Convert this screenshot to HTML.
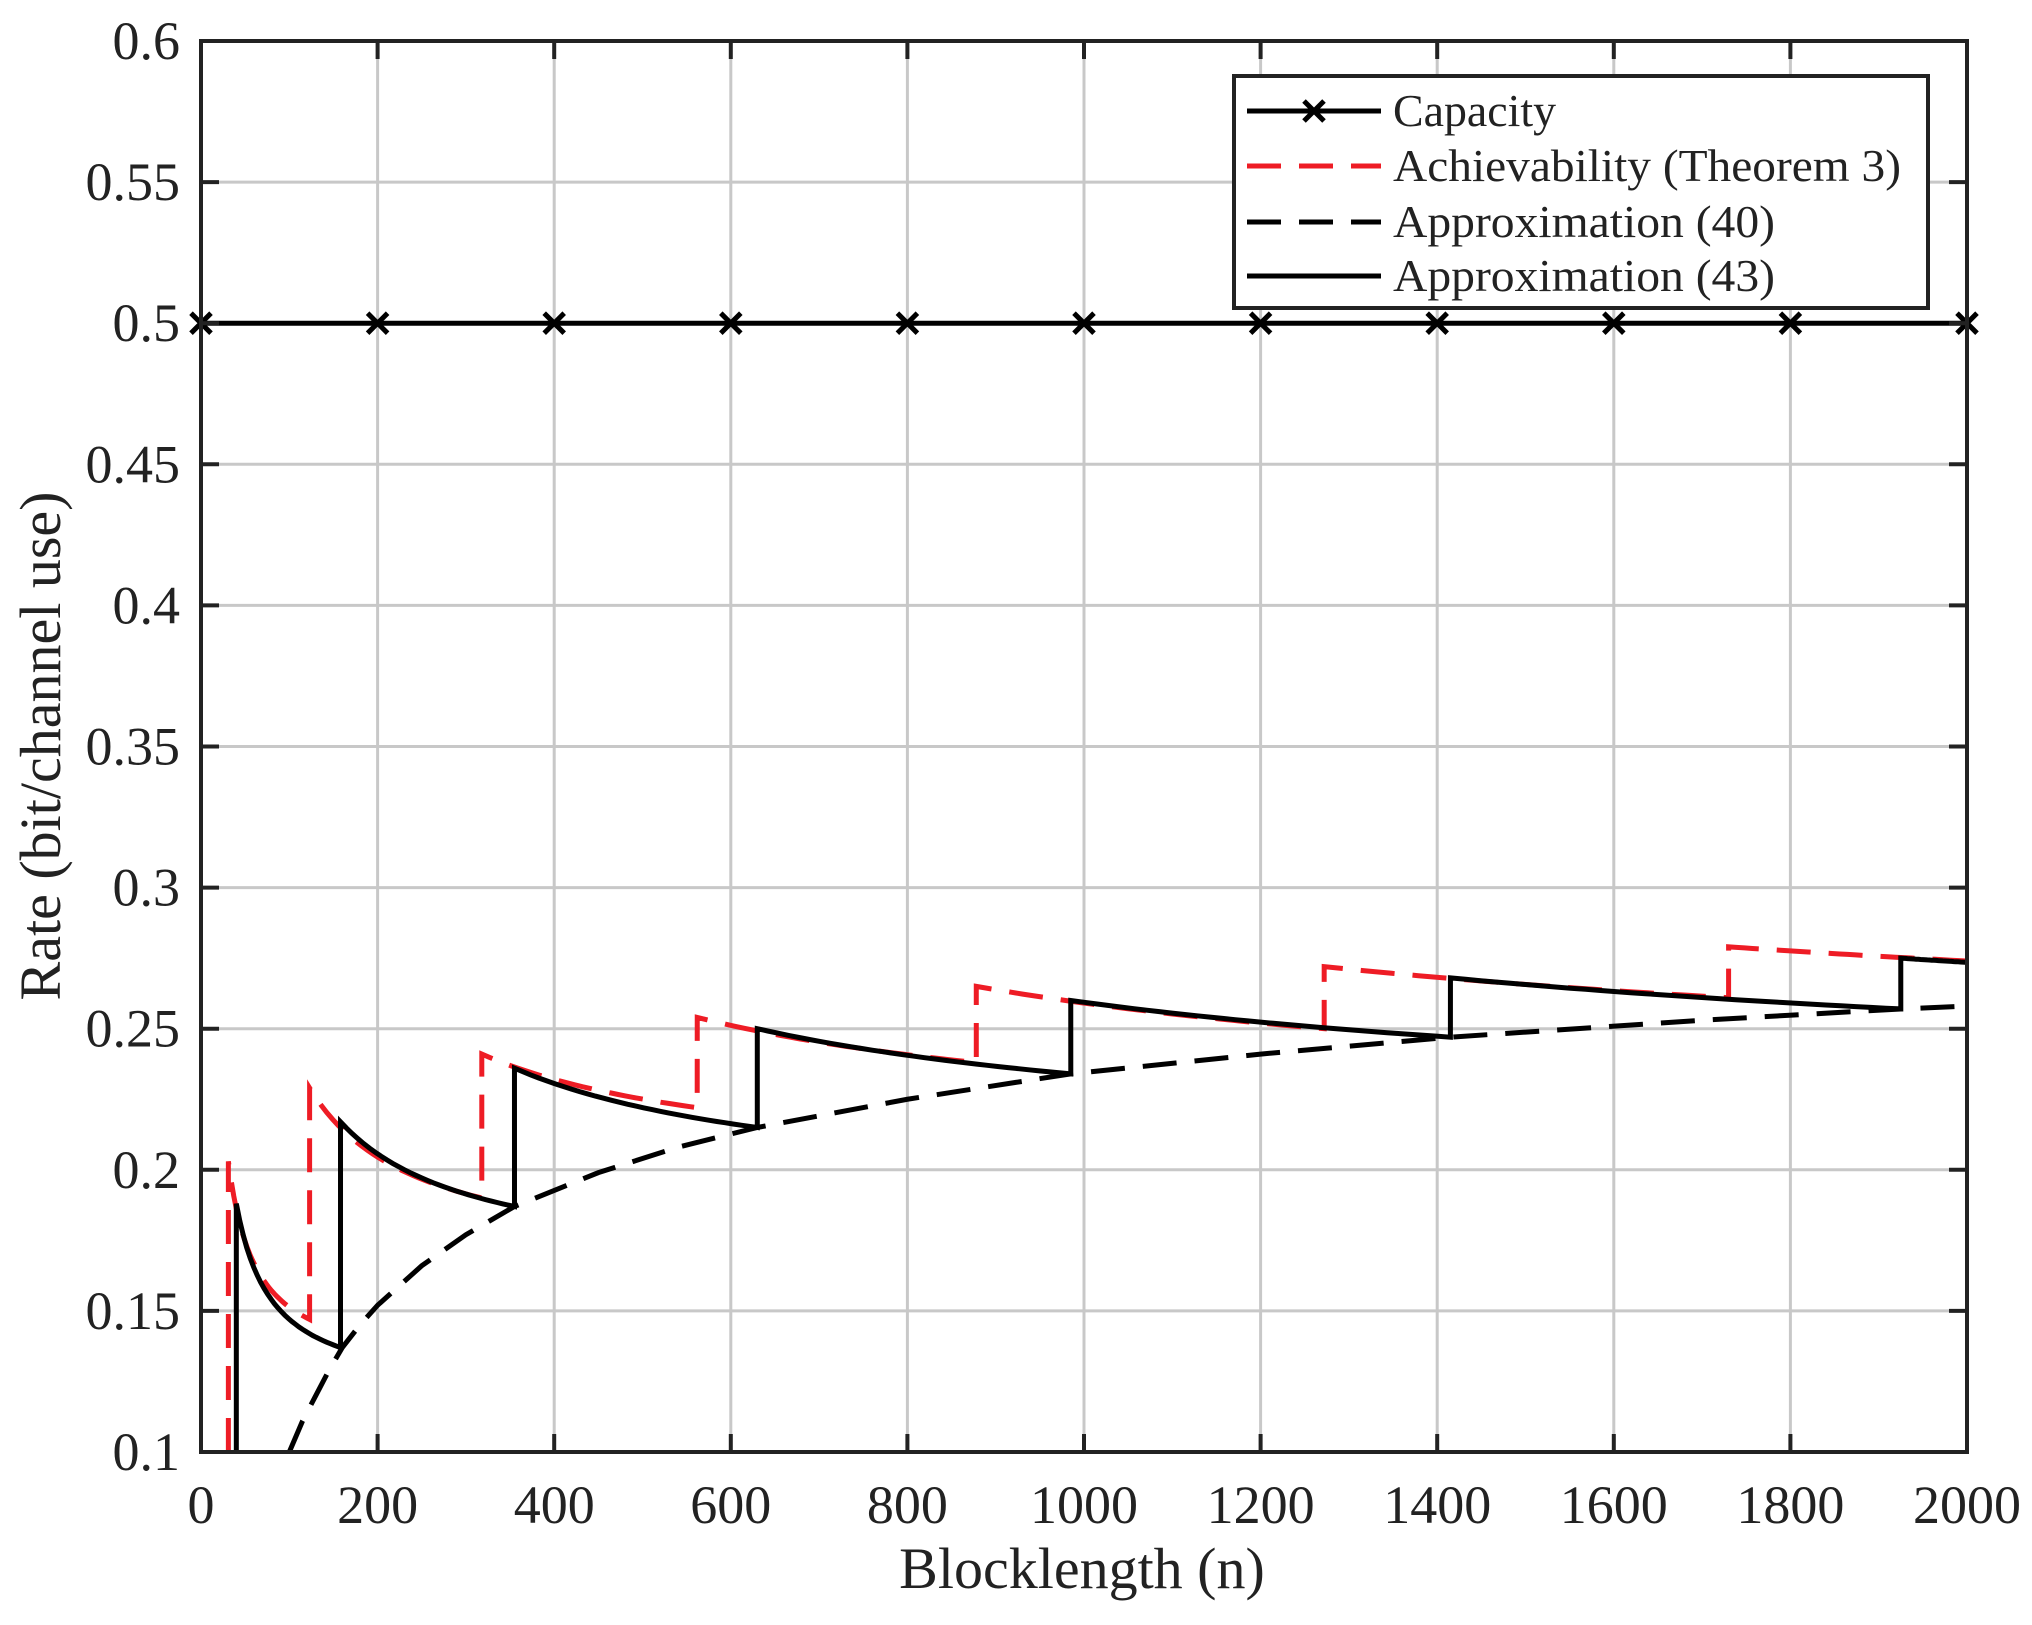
<!DOCTYPE html>
<html><head><meta charset="utf-8"><style>
html,body{margin:0;padding:0;background:#fff;}
svg text{font-family:"Liberation Serif",serif;fill:#222;}
</style></head><body>
<svg id="s" width="2032" height="1620" xmlns="http://www.w3.org/2000/svg">
<rect width="2032" height="1620" fill="#fff"/>
<g id="grid"></g>
<g id="series"></g>
<rect x="201" y="41" width="1766" height="1411" fill="none" stroke="#222" stroke-width="4"/>
<g id="ticks"></g>
<g>
<text x="1082" y="1588" text-anchor="middle" font-size="58">Blocklength (n)</text>
<text transform="translate(60,746) rotate(-90)" text-anchor="middle" font-size="58">Rate (bit/channel use)</text>
</g>
<g id="legend">
<rect x="1234" y="76" width="694" height="232" fill="#fff" stroke="#222" stroke-width="4"/>
<line x1="1247" y1="111" x2="1381" y2="111" stroke="#000" stroke-width="5"/>
<path d="M1304,101 l20,20 M1324,101 l-20,20" stroke="#000" stroke-width="5"/>
<line x1="1247" y1="166" x2="1381" y2="166" stroke="#ee1c25" stroke-width="5" stroke-dasharray="34,18"/>
<line x1="1247" y1="222" x2="1381" y2="222" stroke="#000" stroke-width="5" stroke-dasharray="34,18"/>
<line x1="1247" y1="276" x2="1381" y2="276" stroke="#000" stroke-width="5"/>
<g font-size="46">
<text x="1393" y="126" textLength="163" lengthAdjust="spacingAndGlyphs">Capacity</text>
<text x="1393" y="181" textLength="508" lengthAdjust="spacingAndGlyphs">Achievability (Theorem 3)</text>
<text x="1393" y="237" textLength="382" lengthAdjust="spacingAndGlyphs">Approximation (40)</text>
<text x="1393" y="291" textLength="382" lengthAdjust="spacingAndGlyphs">Approximation (43)</text>
</g>
</g>
</svg>
<script>
var NS="http://www.w3.org/2000/svg";
function X(n){return 201+n*0.883;}
function Y(r){return 1452-(r-0.1)*2822;}
function el(p,t,a){var e=document.createElementNS(NS,t);for(var k in a)e.setAttribute(k,a[k]);p.appendChild(e);return e;}
var g=document.getElementById('grid'),tk=document.getElementById('ticks'),s=document.getElementById('series');
for(var i=0;i<=10;i++){var x=X(i*200);
 if(i>0&&i<10)el(g,'line',{x1:x,y1:41,x2:x,y2:1452,stroke:'#c8c8c8','stroke-width':3});
 el(tk,'line',{x1:x,y1:1452,x2:x,y2:1434,stroke:'#222','stroke-width':4});
 el(tk,'line',{x1:x,y1:41,x2:x,y2:59,stroke:'#222','stroke-width':4});
 var t=el(tk,'text',{x:x,y:1523,'text-anchor':'middle','font-size':54});t.textContent=String(i*200);}
for(var j=0;j<=10;j++){var r=0.1+j*0.05,y=Y(r);
 if(j>0&&j<10)el(g,'line',{x1:201,y1:y,x2:1967,y2:y,stroke:'#c8c8c8','stroke-width':3});
 el(tk,'line',{x1:201,y1:y,x2:219,y2:y,stroke:'#222','stroke-width':4});
 el(tk,'line',{x1:1967,y1:y,x2:1949,y2:y,stroke:'#222','stroke-width':4});
 var lab=(Math.round(r*100)/100).toString();
 var t2=el(tk,'text',{x:180,y:y+18,'text-anchor':'end','font-size':54});t2.textContent=lab;}
var ap=[[100,0.1],[115,0.111],[130,0.12],[145,0.129],[160,0.137],[180,0.145],[200,0.152],[250,0.166],[300,0.177],[355,0.187],[450,0.199],[540,0.208],[630,0.215],[800,0.225],[985,0.234],[1200,0.241],[1415,0.247],[1700,0.253],[1925,0.257],[2000,0.258]];
el(s,'polyline',{points:ap.map(function(p){return X(p[0])+','+Y(p[1]);}).join(' '),fill:'none',stroke:'#000','stroke-width':5,'stroke-dasharray':'34,18'});
function saw(segs){var d='M'+X(segs[0][0])+','+Y(0.1);
 segs.forEach(function(sg){var n0=sg[0],p=sg[1],n1=sg[2],e=sg[3];
  var B=(p-e)/(1/n0-1/n1),A=p-B/n0;
  d+=' L'+X(n0)+','+Y(p);
  for(var k=1;k<=30;k++){var n=n0+(n1-n0)*k/30;d+=' L'+X(n).toFixed(1)+','+Y(A+B/n).toFixed(1);}
 });return d;}
var red=[[31,0.203,123,0.147],[123,0.229,318,0.190],[318,0.241,562,0.222],[562,0.254,878,0.238],[878,0.265,1272,0.250],[1272,0.272,1730,0.261],[1730,0.279,2000,0.274]];
var blk=[[40,0.188,158,0.137],[158,0.217,355,0.187],[355,0.236,630,0.215],[630,0.250,985,0.234],[985,0.260,1415,0.247],[1415,0.268,1925,0.257],[1925,0.275,2000,0.2735]];
el(s,'path',{d:saw(red),fill:'none',stroke:'#ee1c25','stroke-width':5,'stroke-dasharray':'34,18'});
el(s,'path',{d:saw(blk),fill:'none',stroke:'#000','stroke-width':5});
var cy=Y(0.5);
el(s,'line',{x1:201,y1:cy,x2:1967,y2:cy,stroke:'#000','stroke-width':5});
for(var m=0;m<=10;m++){var cx=X(m*200);el(s,'path',{d:'M'+(cx-10)+','+(cy-10)+' l20,20 M'+(cx+10)+','+(cy-10)+' l-20,20',stroke:'#000','stroke-width':5});}
</script>
</body></html>
